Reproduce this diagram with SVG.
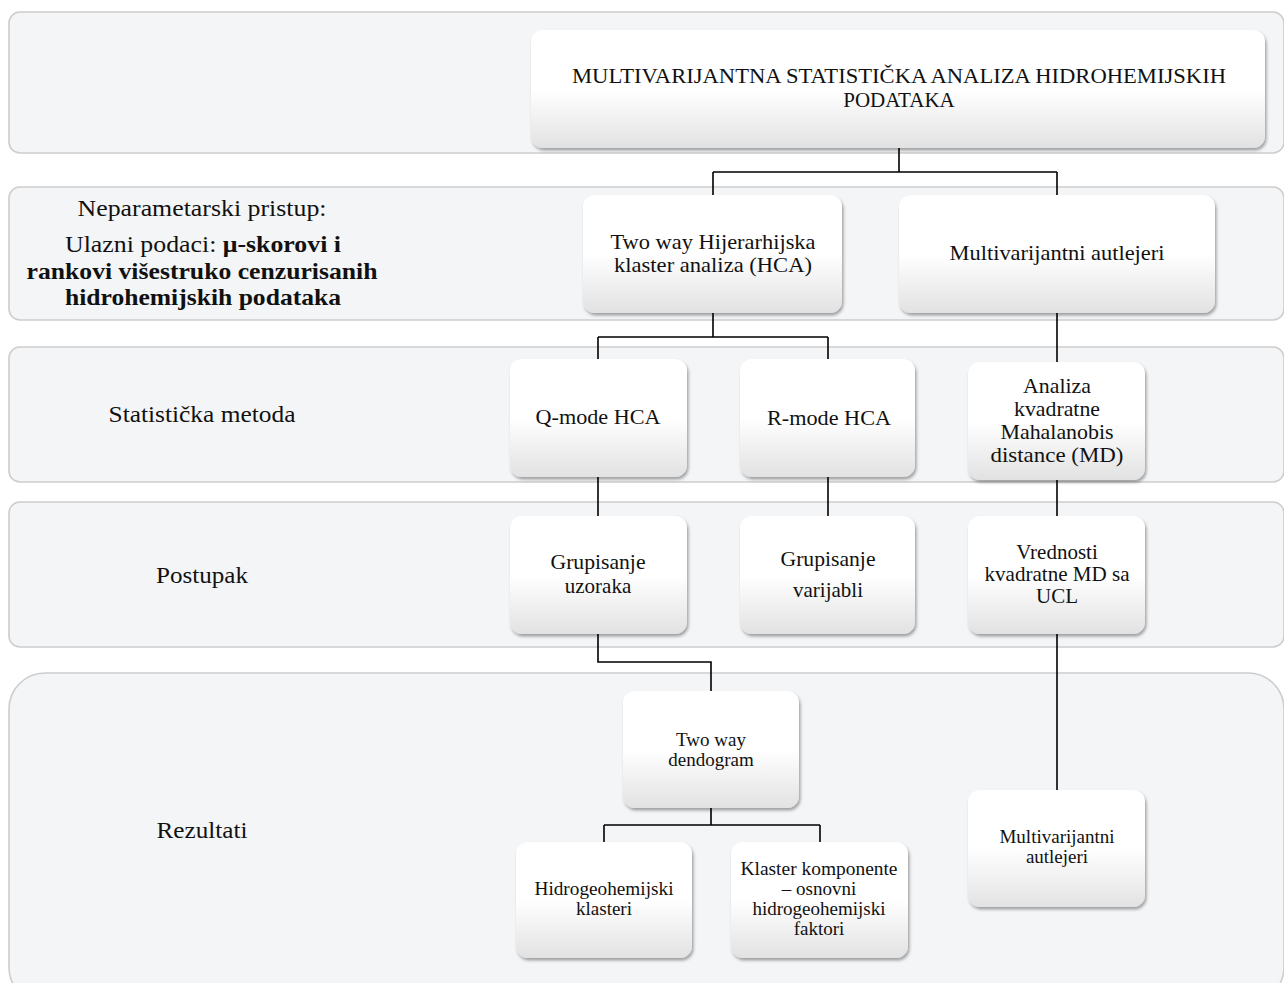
<svg xmlns="http://www.w3.org/2000/svg" width="1284" height="983" viewBox="0 0 1284 983">
  <defs>
    <linearGradient id="nodeFill" x1="0" y1="0" x2="0" y2="1">
      <stop offset="0" stop-color="#ffffff"/>
      <stop offset="0.5" stop-color="#ffffff"/>
      <stop offset="1" stop-color="#e2e2e2"/>
    </linearGradient>
    <filter id="shadow" x="-10%" y="-10%" width="125%" height="130%">
      <feDropShadow dx="1.5" dy="2.5" stdDeviation="1.8" flood-color="#000" flood-opacity="0.35"/>
    </filter>
  </defs>
  <style>
    .lane { fill: #f4f5f7; stroke: #cdcdcd; stroke-width: 1.6; }
    .box { fill: url(#nodeFill); filter: url(#shadow); }
    .t { font-family: "Liberation Serif", "Times New Roman", serif; fill: #111; text-anchor: middle; }
    .lbl { font-size: 23px; }
    .n21 { font-size: 21px; }
    .n19 { font-size: 19px; }
    .b { font-weight: bold; }
    .wire { fill: none; stroke: #000; stroke-width: 1.6; }
  </style>

  <rect width="1284" height="983" fill="#ffffff"/>

  <!-- horizontal lanes -->
  <g id="lanes">
    <rect class="lane" x="9" y="12" width="1275" height="141" rx="11"/>
    <rect class="lane" x="9" y="187" width="1275" height="133" rx="11"/>
    <rect class="lane" x="9" y="347" width="1275" height="135" rx="11"/>
    <rect class="lane" x="9" y="502" width="1275" height="145" rx="11"/>
    <rect class="lane" x="9" y="673" width="1275" height="330" rx="36"/>
  </g>

  <!-- lane captions -->
  <g id="lane-labels">
    <g id="label-pristup">
      <text class="t lbl" x="202" y="216" font-size="22" textLength="249" lengthAdjust="spacingAndGlyphs">Neparametarski pristup:</text>
      <text class="t lbl" x="203" y="252" font-size="22" textLength="276" lengthAdjust="spacingAndGlyphs">Ulazni podaci: <tspan class="b">μ-skorovi i</tspan></text>
      <text class="t lbl b" x="202" y="279" font-size="22" textLength="351" lengthAdjust="spacingAndGlyphs">rankovi višestruko cenzurisanih</text>
      <text class="t lbl b" x="203" y="305" font-size="22" textLength="276" lengthAdjust="spacingAndGlyphs">hidrohemijskih podataka</text>
    </g>
    <g id="label-metoda">
      <text class="t lbl" x="202" y="422" textLength="187" lengthAdjust="spacingAndGlyphs">Statistička metoda</text>
    </g>
    <g id="label-postupak">
      <text class="t lbl" x="202" y="583" textLength="92" lengthAdjust="spacingAndGlyphs">Postupak</text>
    </g>
    <g id="label-rezultati">
      <text class="t lbl" x="202" y="838" textLength="91" lengthAdjust="spacingAndGlyphs">Rezultati</text>
    </g>
  </g>

  <!-- connectors -->
  <g id="connectors">
    <path class="wire" d="M899,148 V172 M713,172 H1057 M713,172 V195 M1057,172 V195"/>
    <path class="wire" d="M713,313 V337 M598,337 H828 M598,337 V359 M828,337 V359"/>
    <path class="wire" d="M1057,313 V363"/>
    <path class="wire" d="M598,477 V516"/>
    <path class="wire" d="M828,477 V516"/>
    <path class="wire" d="M1057,480 V516"/>
    <path class="wire" d="M598,634 V662 H711 V691"/>
    <path class="wire" d="M711,808 V825 M604,825 H820 M604,825 V842 M820,825 V842"/>
    <path class="wire" d="M1057,634 V790"/>
  </g>

  <!-- nodes -->
  <g id="node-root">
    <rect class="box" x="531" y="30" width="734" height="118" rx="12"/>
    <text class="t n21" x="899" y="83" textLength="654" lengthAdjust="spacingAndGlyphs">MULTIVARIJANTNA STATISTIČKA ANALIZA HIDROHEMIJSKIH</text>
    <text class="t n21" x="899" y="107">PODATAKA</text>
  </g>

  <g id="node-hca">
    <rect class="box" x="583" y="195" width="259" height="118" rx="12"/>
    <text class="t n21" x="713" y="249" textLength="205" lengthAdjust="spacingAndGlyphs">Two way Hijerarhijska</text>
    <text class="t n21" x="713" y="272" textLength="198" lengthAdjust="spacingAndGlyphs">klaster analiza (HCA)</text>
  </g>

  <g id="node-outliers-method">
    <rect class="box" x="899" y="195" width="316" height="118" rx="12"/>
    <text class="t n21" x="1057" y="260" textLength="215" lengthAdjust="spacingAndGlyphs">Multivarijantni autlejeri</text>
  </g>

  <g id="node-qmode">
    <rect class="box" x="510" y="359" width="177" height="118" rx="12"/>
    <text class="t n21" x="598" y="424" textLength="125" lengthAdjust="spacingAndGlyphs">Q-mode HCA</text>
  </g>

  <g id="node-rmode">
    <rect class="box" x="740" y="359" width="175" height="118" rx="12"/>
    <text class="t n21" x="829" y="425" textLength="124" lengthAdjust="spacingAndGlyphs">R-mode HCA</text>
  </g>

  <g id="node-md">
    <rect class="box" x="968" y="362" width="177" height="118" rx="12"/>
    <text class="t n21" x="1057" y="393" textLength="68" lengthAdjust="spacingAndGlyphs">Analiza</text>
    <text class="t n21" x="1057" y="416" textLength="86" lengthAdjust="spacingAndGlyphs">kvadratne</text>
    <text class="t n21" x="1057" y="439" textLength="113" lengthAdjust="spacingAndGlyphs">Mahalanobis</text>
    <text class="t n21" x="1057" y="462" textLength="133" lengthAdjust="spacingAndGlyphs">distance (MD)</text>
  </g>

  <g id="node-samples">
    <rect class="box" x="510" y="516" width="177" height="118" rx="12"/>
    <text class="t n21" x="598" y="569" textLength="95" lengthAdjust="spacingAndGlyphs">Grupisanje</text>
    <text class="t n21" x="598" y="593">uzoraka</text>
  </g>

  <g id="node-variables">
    <rect class="box" x="740" y="516" width="175" height="118" rx="12"/>
    <text class="t n21" x="828" y="566" textLength="95" lengthAdjust="spacingAndGlyphs">Grupisanje</text>
    <text class="t n21" x="828" y="597">varijabli</text>
  </g>

  <g id="node-ucl">
    <rect class="box" x="968" y="516" width="177" height="118" rx="12"/>
    <text class="t n21" x="1057" y="559">Vrednosti</text>
    <text class="t n21" x="1057" y="581" textLength="145" lengthAdjust="spacingAndGlyphs">kvadratne MD sa</text>
    <text class="t n21" x="1057" y="603">UCL</text>
  </g>

  <g id="node-dendogram">
    <rect class="box" x="623" y="691" width="176" height="117" rx="12"/>
    <text class="t n19" x="711" y="746">Two way</text>
    <text class="t n19" x="711" y="766">dendogram</text>
  </g>

  <g id="node-clusters">
    <rect class="box" x="516" y="842" width="176" height="116" rx="12"/>
    <text class="t n19" x="604" y="895" textLength="139" lengthAdjust="spacingAndGlyphs">Hidrogeohemijski</text>
    <text class="t n19" x="604" y="915">klasteri</text>
  </g>

  <g id="node-components">
    <rect class="box" x="731" y="842" width="177" height="116" rx="12"/>
    <text class="t n19" x="819" y="875" textLength="157" lengthAdjust="spacingAndGlyphs">Klaster komponente</text>
    <text class="t n19" x="819" y="895">– osnovni</text>
    <text class="t n19" x="819" y="915">hidrogeohemijski</text>
    <text class="t n19" x="819" y="935">faktori</text>
  </g>

  <g id="node-outliers-result">
    <rect class="box" x="968" y="790" width="177" height="117" rx="12"/>
    <text class="t n19" x="1057" y="843">Multivarijantni</text>
    <text class="t n19" x="1057" y="863">autlejeri</text>
  </g>
</svg>
